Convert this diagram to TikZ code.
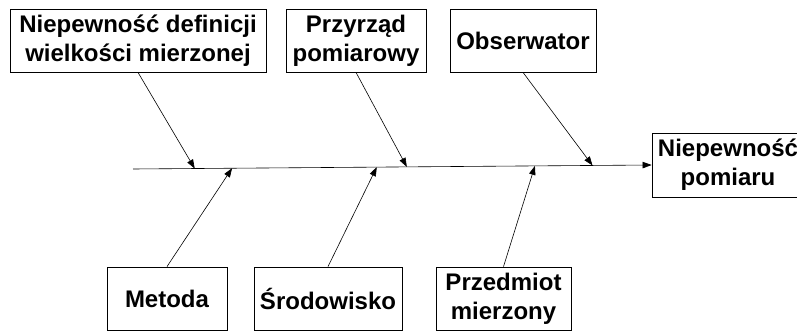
\documentclass[tikz,border=0pt]{standalone}
\usepackage{fontspec}
\setmainfont{Liberation Sans}
\usepackage{tikz}
\usetikzlibrary{arrows.meta,positioning,calc}

\tikzset{
  cause/.style={draw, line width=0.8pt, inner sep=0pt, align=center,
    minimum height=63pt, font=\bfseries\fontsize{24}{29}\selectfont},
  bone/.style={line width=0.6pt, -{Triangle[length=9pt,width=6.5pt]}}
}

\begin{document}
\begin{tikzpicture}[x=1pt,y=-1pt]
    \useasboundingbox (0,0) rectangle (797,331);
    % Effect
    \node[cause, minimum width=152pt, minimum height=64pt] (effect) at (728,165) {Niepewność\\pomiaru};
    % Upper causes
    \node[cause, minimum width=256pt] (defin) at (138,40.5) {Niepewność definicji\\wielkości mierzonej};
    \node[cause, minimum width=140pt] (przyrzad) at (356,40.5) {Przyrząd\\pomiarowy};
    \node[cause, minimum width=146pt] (obs) at (523,40.5) {Obserwator};
    % Lower causes
    \node[cause, minimum width=120pt] (metoda) at (167,298.5) {Metoda};
    \node[cause, minimum width=148pt] (srodow) at (328,298.5) {Środowisko};
    \node[cause, minimum width=135pt] (przedm) at (503.5,298.5) {Przedmiot\\mierzony};
    % Spine
    \coordinate (tail) at (133,169);
    \draw[bone] (tail) -- (effect.west);
    \coordinate (t1) at ($(tail)!0.119!(effect.west)$);
    \coordinate (t2) at ($(tail)!0.528!(effect.west)$);
    \coordinate (t3) at ($(tail)!0.886!(effect.west)$);
    \coordinate (u1) at ($(tail)!0.191!(effect.west)$);
    \coordinate (u2) at ($(tail)!0.470!(effect.west)$);
    \coordinate (u3) at ($(tail)!0.775!(effect.west)$);
    % Bones
    \draw[bone] (defin.south) -- (t1);
    \draw[bone] (przyrzad.south) -- (t2);
    \draw[bone] (obs.south) -- (t3);
    \draw[bone] (metoda.north) -- (u1);
    \draw[bone] (srodow.north) -- (u2);
    \draw[bone] (przedm.north) -- (u3);
\end{tikzpicture}
\end{document}
